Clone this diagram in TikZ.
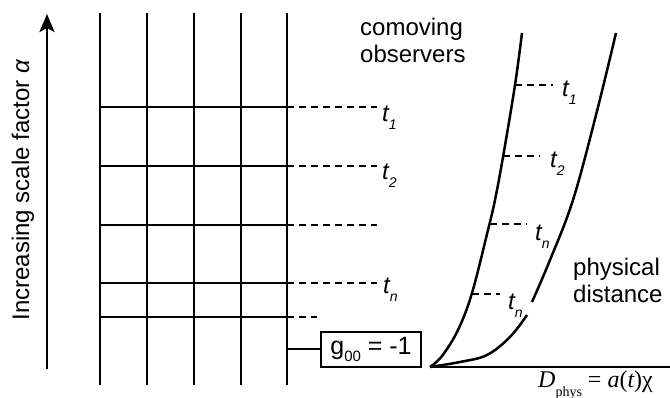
\documentclass[tikz,border=0pt]{standalone}
\usepackage{fontspec}
\setmainfont{Liberation Sans}
\newfontfamily\serifff{Liberation Serif}
\usetikzlibrary{arrows.meta}
\newcommand{\tlab}[1]{\itshape t\raisebox{-0.3em}{\fontsize{14}{14}\selectfont #1}}
\begin{document}
\begin{tikzpicture}[x=1pt,y=-1pt,
  thick line/.style={line width=2.7pt},
  dash line/.style={line width=1.6pt, dash pattern=on 7pt off 5pt},
  txt/.style={font=\fontsize{24}{27}\selectfont, inner sep=0pt},
  tl/.style={font=\fontsize{24}{25}\selectfont, inner sep=0pt, anchor=base west}]
\useasboundingbox (0,0) rectangle (670,398);
% grid
\foreach \x/\n in {100/a,147/b,194/c,241/d,287/e}{
  \coordinate (top\n) at (\x,13);
  \coordinate (bot\n) at (\x,385);
  \draw[thick line] (top\n) -- (bot\n);
}
\foreach \y/\n in {107/1,166/2,225/3,283/4,317/5}{
  \coordinate (hl\n) at (100,\y);
  \coordinate (hr\n) at (287,\y);
  \draw[thick line] (hl\n) -- (hr\n);
}
% arrow
\coordinate (arb) at (47,369);
\coordinate (art) at (47,14);
\draw[line width=2.7pt,-{Stealth[length=18pt,width=15pt,inset=4pt]}] (arb) -- (art);
\node[txt, rotate=90] (lab) at (23,190) {Increasing scale factor \textit{α}};
% dashed lines on left
\coordinate (d1) at (377,107);
\coordinate (d2) at (377,166);
\coordinate (d3) at (377,225);
\coordinate (d4) at (377,283);
\coordinate (d5) at (317,317);
\draw[dash line] (hr1) -- (d1);
\draw[dash line] (hr2) -- (d2);
\draw[dash line] (hr3) -- (d3);
\draw[dash line] (hr4) -- (d4);
\draw[dash line] (hr5) -- (d5);
\node[tl] (lt1) at (382,122) {\tlab{1}};
\node[tl] (lt2) at (382,180) {\tlab{2}};
\node[tl] (ltn) at (383,294) {\tlab{\itshape n}};
% g00 box
\node[draw, line width=1.3pt, minimum width=100pt, minimum height=35pt, inner sep=0pt,
      font=\fontsize{25}{27}\selectfont] (g) at (371,349.5) {g\raisebox{-0.3em}{\fontsize{15}{15}\selectfont 00} = -1};
\coordinate (gl) at (287,349);
\draw[thick line] (gl) -- (g.west |- gl);
% comoving observers
\node[txt, align=left, anchor=base west] (com) at (360,63) {comoving\\observers};
% right part
\coordinate (o) at (430,367);
\coordinate (axe) at (670,367);
\draw[thick line] (o) -- (axe);
\draw[line width=2.5pt] plot[smooth, tension=0.6] coordinates {(430,367) (442,356) (458,330) (472,293) (488,230) (495,200) (503,157) (515,85) (522,33)};
\draw[line width=2.5pt] plot[smooth, tension=0.6] coordinates {(430,367) (460,362) (487,355) (510,337) (527,315)};
\draw[line width=2.5pt] plot[smooth, tension=0.6] coordinates {(532,302) (550,260) (573,200) (596,115) (616,33)};
\coordinate (r1a) at (515,85);   \coordinate (r1b) at (553,85);
\coordinate (r2a) at (503,156);  \coordinate (r2b) at (540,156);
\coordinate (r3a) at (490,224);  \coordinate (r3b) at (527,224);
\coordinate (r4a) at (472,294);  \coordinate (r4b) at (500,294);
\draw[dash line] (r1a) -- (r1b);
\draw[dash line] (r2a) -- (r2b);
\draw[dash line] (r3a) -- (r3b);
\draw[dash line] (r4a) -- (r4b);
\node[tl] (rt1) at (562,97) {\tlab{1}};
\node[tl] (rt2) at (550,168) {\tlab{2}};
\node[tl] (rtn) at (535,241) {\tlab{\itshape n}};
\node[tl] (rtm) at (508,310) {\tlab{\itshape n}};
\node[txt, align=left, anchor=base west] (phy) at (573,303) {physical\\distance};
\node[inner sep=0pt, anchor=base west, font=\serifff\fontsize{24}{26}\selectfont] (dp) at (538,388)
  {\itshape D\raisebox{-0.35em}{\upshape\fontsize{14}{14}\selectfont phys}\upshape{} = \itshape a\upshape(\itshape t\upshape)χ};
\end{tikzpicture}
\end{document}
